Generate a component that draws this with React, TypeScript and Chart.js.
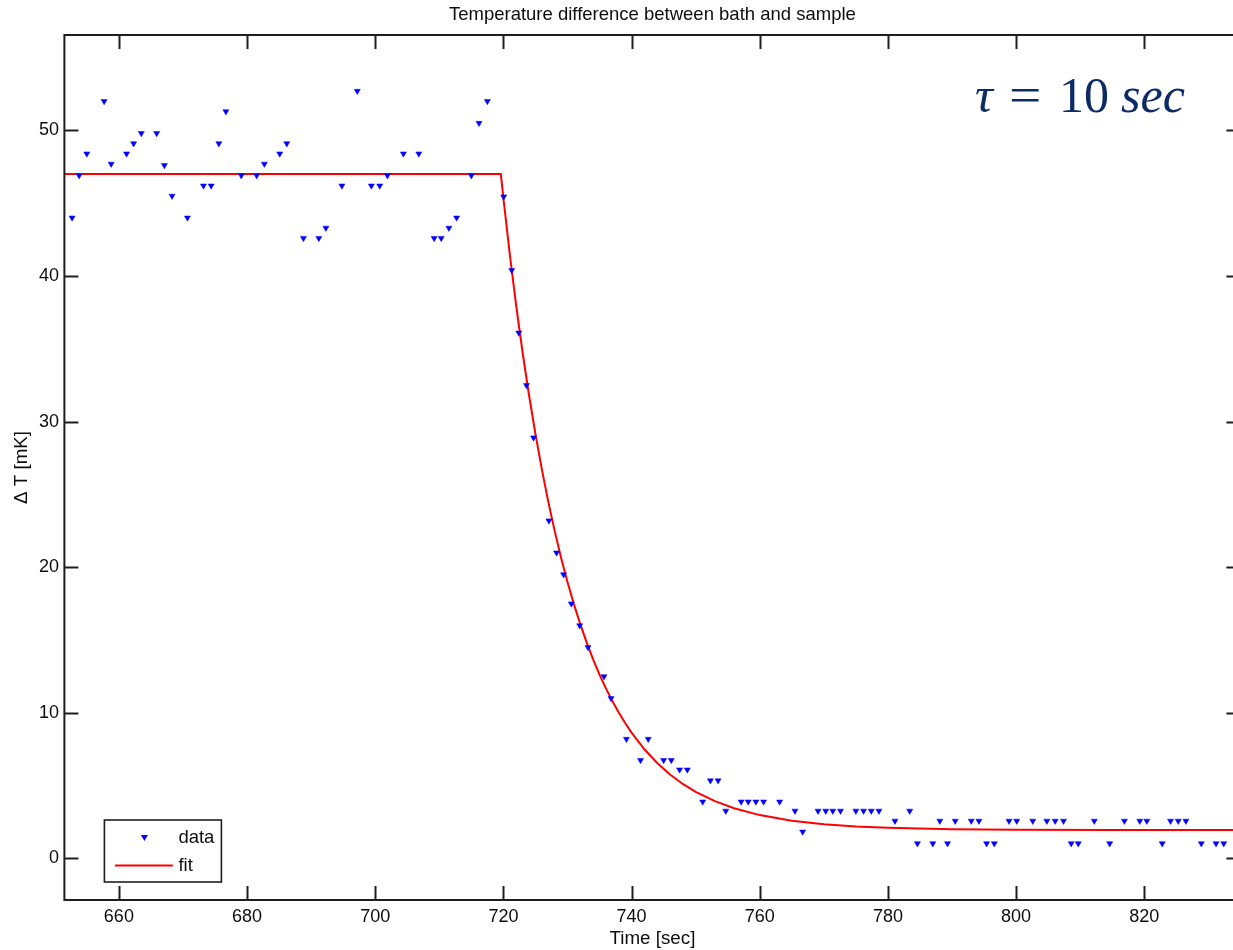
import { useEffect, useRef } from "react";
import { Chart, registerables } from "chart.js";

Chart.register(...registerables);

const TITLE = "Temperature difference between bath and sample";
const X_LABEL = "Time [sec]";
const Y_LABEL = "Δ T [mK]";
const LEGEND_LABELS = ["data", "fit"];

const X_MIN = 651.5;
const X_MAX = 835;
const Y_MIN = -2.85;
const Y_MAX = 56.55;
const X_STEP = 20;
const Y_STEP = 10;

const dataTime = [
  652.7, 653.8, 655.0, 657.7, 658.8, 661.2, 662.3, 663.5, 665.9, 667.1,
  668.3, 670.7, 673.2, 674.4, 675.6, 676.7, 679.1, 681.5, 682.7, 685.1,
  686.2, 688.8, 691.2, 692.3, 694.8, 697.2, 699.4, 700.7, 701.9, 704.4,
  706.8, 709.2, 710.3, 711.5, 712.7, 715.0, 716.2, 717.5, 720.05, 721.3,
  722.4, 723.6, 724.7, 727.1, 728.3, 729.4, 730.6, 731.9, 733.2, 735.7,
  736.8, 739.2, 741.4, 742.6, 745.0, 746.2, 747.5, 748.7, 751.1, 752.3,
  753.5, 754.7, 757.1, 758.2, 759.4, 760.6, 763.1, 765.5, 766.7, 769.1,
  770.3, 771.4, 772.6, 775.0, 776.2, 777.4, 778.6, 781.1, 783.4, 784.6,
  787.0, 788.1, 789.3, 790.5, 793.0, 794.2, 795.4, 796.6, 798.9, 800.1,
  802.6, 804.8, 806.1, 807.4, 808.6, 809.7, 812.2, 814.6, 816.9, 819.3,
  820.4, 822.8, 824.1, 825.3, 826.5, 828.9, 831.2, 832.4,
];

const dataDeltaT = [
  44.0, 46.9, 48.4, 52.0, 47.7, 48.4, 49.1, 49.8, 49.8, 47.6,
  45.5, 44.0, 46.2, 46.2, 49.1, 51.3, 46.9, 46.9, 47.7, 48.4,
  49.1, 42.6, 42.6, 43.3, 46.2, 52.7, 46.2, 46.2, 46.9, 48.4,
  48.4, 42.6, 42.6, 43.3, 44.0, 46.9, 50.5, 52.0, 45.45, 40.4,
  36.1, 32.5, 28.9, 23.2, 21.0, 19.5, 17.5, 16.0, 14.5, 12.5,
  11.0, 8.2, 6.75, 8.2, 6.75, 6.75, 6.1, 6.1, 3.9, 5.35,
  5.35, 3.27, 3.9, 3.9, 3.9, 3.9, 3.9, 3.27, 1.83, 3.27,
  3.27, 3.27, 3.27, 3.27, 3.27, 3.27, 3.27, 2.58, 3.27, 1.03,
  1.03, 2.58, 1.03, 2.58, 2.58, 2.58, 1.03, 1.03, 2.58, 2.58,
  2.58, 2.58, 2.58, 2.58, 1.03, 1.03, 2.58, 1.03, 2.58, 2.58,
  2.58, 1.03, 2.58, 2.58, 2.58, 1.03, 1.03, 1.03,
];

const fitTime = [
  651.5, 719.6, 720, 721, 722, 723, 724, 725, 726, 727, 728, 729, 730, 731,
  732, 733, 734, 735, 736, 737, 738, 739, 740, 742, 744, 746, 748, 750, 753,
  756, 760, 765, 770, 775, 780, 790, 800, 815, 835,
];

const fitDeltaT = [
  47.0, 47.0, 45.35, 41.48, 37.95, 34.73, 31.81, 29.15, 26.72, 24.51, 22.5,
  20.66, 18.99, 17.47, 16.09, 14.83, 13.68, 12.63, 11.68, 10.81, 10.02, 9.3,
  8.64, 7.5, 6.56, 5.77, 5.12, 4.58, 3.94, 3.45, 2.98, 2.6, 2.36, 2.2, 2.11,
  2.01, 1.97, 1.95, 1.95,
];

const FONT = "'Liberation Sans', Arial, Helvetica, sans-serif";
const CANVAS_W = 1260;
const CANVAS_H = 950;
const PLOT_LEFT = 64.4;
const PLOT_RIGHT = 1240.4;
const X_AXIS_H = 50;
const TICK_LEN = 14;
const DATA_COLOR = "#0000ff";
const FIT_COLOR = "#ff0000";
const FRAME_COLOR = "#1e1e1e";
const TEXT_COLOR = "#0d0d0d";

function drawMarker(ctx: CanvasRenderingContext2D, x: number, y: number) {
  ctx.beginPath();
  ctx.moveTo(x - 3.5, y - 2.5);
  ctx.lineTo(x + 3.5, y - 2.5);
  ctx.lineTo(x, y + 3.5);
  ctx.closePath();
  ctx.fill();
}

const framePlugin = {
  id: "frameAndTicks",
  afterDatasetsDraw(chart: any) {
    const { ctx, chartArea, scales } = chart;
    const { left, right, top, bottom } = chartArea;
    const xs = scales.x;
    const ys = scales.y;
    ctx.save();
    ctx.strokeStyle = FRAME_COLOR;
    ctx.lineWidth = 2;
    ctx.strokeRect(left, top, right - left, bottom - top);
    ctx.beginPath();
    xs.ticks.forEach((t: any) => {
      const px = Math.round(xs.getPixelForValue(t.value)) + 0.5;
      ctx.moveTo(px, bottom);
      ctx.lineTo(px, bottom - TICK_LEN);
      ctx.moveTo(px, top);
      ctx.lineTo(px, top + TICK_LEN);
    });
    ys.ticks.forEach((t: any) => {
      const py = Math.round(ys.getPixelForValue(t.value)) + 0.5;
      ctx.moveTo(left, py);
      ctx.lineTo(left + TICK_LEN, py);
      ctx.moveTo(right, py);
      ctx.lineTo(right - TICK_LEN, py);
    });
    ctx.stroke();
    ctx.restore();
  },
  afterDraw(chart: any) {
    const { ctx, chartArea } = chart;
    const x0 = chartArea.left + 40;
    const y0 = chartArea.bottom - 80;
    const w = 117;
    const h = 62;
    ctx.save();
    ctx.fillStyle = "#ffffff";
    ctx.fillRect(x0, y0, w, h);
    ctx.strokeStyle = FRAME_COLOR;
    ctx.lineWidth = 1.6;
    ctx.strokeRect(x0, y0, w, h);
    ctx.fillStyle = DATA_COLOR;
    drawMarker(ctx, x0 + 40, y0 + 17.5);
    ctx.strokeStyle = FIT_COLOR;
    ctx.lineWidth = 2;
    ctx.beginPath();
    ctx.moveTo(x0 + 10.5, y0 + 45.5);
    ctx.lineTo(x0 + 68.5, y0 + 45.5);
    ctx.stroke();
    ctx.fillStyle = TEXT_COLOR;
    ctx.font = `18.5px ${FONT}`;
    ctx.textBaseline = "middle";
    ctx.textAlign = "left";
    ctx.fillText(LEGEND_LABELS[0], x0 + 74, y0 + 17.5);
    ctx.fillText(LEGEND_LABELS[1], x0 + 74, y0 + 45.5);
    ctx.restore();
  },
};

export default function App() {
  const canvasRef = useRef<HTMLCanvasElement | null>(null);

  useEffect(() => {
    const canvas = canvasRef.current;
    if (!canvas) return;
    const chart = new Chart(canvas, {
      type: "scatter",
      data: {
        datasets: [
          {
            label: LEGEND_LABELS[0],
            data: dataTime.map((t, i) => ({ x: t, y: dataDeltaT[i] })),
            showLine: false,
            pointStyle: "triangle",
            rotation: 180,
            pointRadius: 3.5,
            pointBackgroundColor: DATA_COLOR,
            pointBorderColor: DATA_COLOR,
            pointBorderWidth: 0.5,
            pointHoverRadius: 3.5,
          },
          {
            label: LEGEND_LABELS[1],
            data: fitTime.map((t, i) => ({ x: t, y: fitDeltaT[i] })),
            showLine: true,
            borderColor: FIT_COLOR,
            borderWidth: 2,
            pointRadius: 0,
            pointHoverRadius: 0,
            tension: 0,
            fill: false,
          },
        ],
      },
      options: {
        animation: false,
        responsive: false,
        maintainAspectRatio: false,
        devicePixelRatio: 1,
        events: [],
        layout: {
          padding: { left: 0, top: 0, right: CANVAS_W - PLOT_RIGHT, bottom: 0 },
        },
        plugins: {
          legend: { display: false },
          tooltip: { enabled: false },
          title: {
            display: true,
            text: TITLE,
            fullSize: false,
            color: TEXT_COLOR,
            font: { family: FONT, size: 18.5, weight: "normal", lineHeight: 1.2 },
            padding: { top: 4, bottom: 8.8 },
          },
        },
        scales: {
          x: {
            type: "linear",
            position: "bottom",
            min: X_MIN,
            max: X_MAX,
            grid: { display: false, drawTicks: false },
            border: { display: false },
            afterFit: (s: any) => {
              s.height = X_AXIS_H;
            },
            ticks: {
              stepSize: X_STEP,
              includeBounds: false,
              padding: 6.2,
              color: TEXT_COLOR,
              maxRotation: 0,
              autoSkip: false,
              font: { family: FONT, size: 18, lineHeight: 1.2 },
            },
            title: {
              display: true,
              text: X_LABEL,
              color: TEXT_COLOR,
              font: { family: FONT, size: 18.8, lineHeight: 1.2 },
              padding: { top: 0, bottom: 0 },
            },
          },
          y: {
            type: "linear",
            position: "left",
            min: Y_MIN,
            max: Y_MAX,
            grid: { display: false, drawTicks: false },
            border: { display: false },
            afterFit: (s: any) => {
              s.width = PLOT_LEFT;
            },
            ticks: {
              stepSize: Y_STEP,
              includeBounds: false,
              padding: 5.5,
              color: TEXT_COLOR,
              autoSkip: false,
              font: { family: FONT, size: 18, lineHeight: 1.2 },
            },
            title: {
              display: true,
              text: Y_LABEL,
              color: TEXT_COLOR,
              font: { family: FONT, size: 18.8, lineHeight: 1.2 },
              padding: { top: 10.7, bottom: 0 },
            },
          },
        },
      },
      plugins: [framePlugin],
    });
    return () => chart.destroy();
  }, []);

  const tauStyle: React.CSSProperties = {
    position: "absolute",
    top: 69.8,
    fontFamily: "'Liberation Serif', 'DejaVu Serif', serif",
    fontSize: 50,
    lineHeight: "50px",
    color: "#0c2a66",
    whiteSpace: "nowrap",
  };

  return (
    <div
      style={{
        position: "fixed",
        left: 0,
        top: 0,
        width: 1233,
        height: 950,
        overflow: "hidden",
        background: "#ffffff",
      }}
    >
      <canvas
        ref={canvasRef}
        width={CANVAS_W}
        height={CANVAS_H}
        style={{ position: "absolute", left: 0, top: 0, width: CANVAS_W, height: CANVAS_H }}
      />
      <span style={{ ...tauStyle, left: 975, fontStyle: "italic" }}>τ</span>
      <span
        style={{
          ...tauStyle,
          left: 1009,
          transform: "scaleX(1.15)",
          transformOrigin: "left center",
        }}
      >
        =
      </span>
      <span style={{ ...tauStyle, left: 1059 }}>10</span>
      <span style={{ ...tauStyle, left: 1121, fontStyle: "italic" }}>sec</span>
    </div>
  );
}
